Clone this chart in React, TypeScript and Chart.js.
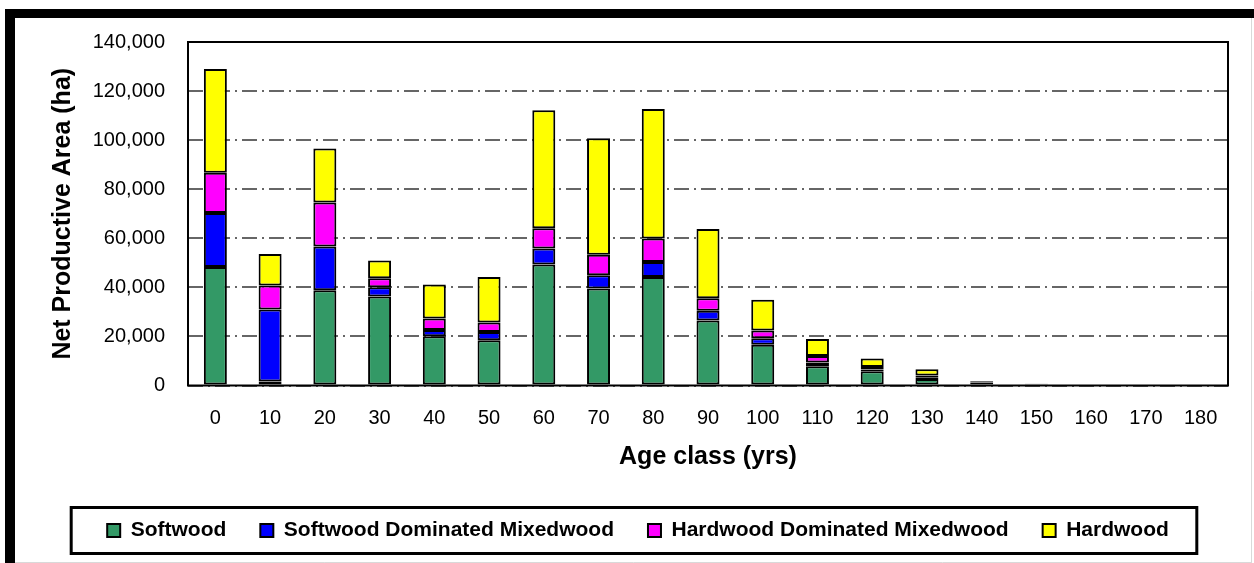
import { useEffect, useRef } from 'react';
import { Chart, registerables } from 'chart.js';

Chart.register(...registerables);

// Age classes (yrs)
const ageClasses = ['0', '10', '20', '30', '40', '50', '60', '70', '80', '90', '100', '110', '120', '130', '140', '150', '160', '170', '180'];

// Net productive area (ha) per forest type (stacked)
const softwood = [48300, 1600, 38800, 36300, 20100, 18400, 49300, 39500, 44200, 26500, 16600, 7800, 5800, 2600, 1000, 500, 0, 0, 0];
const softwoodDominatedMixedwood = [22000, 29400, 17900, 3700, 2500, 3400, 6500, 5400, 6100, 4000, 2700, 1600, 700, 800, 200, 100, 0, 0, 0];
const hardwoodDominatedMixedwood = [16400, 9800, 17900, 3700, 4700, 3900, 8300, 8400, 9600, 5100, 3100, 2600, 1000, 700, 200, 50, 0, 0, 0];
const hardwood = [42300, 12800, 22000, 7200, 13900, 18500, 48100, 47500, 52800, 28200, 12600, 7000, 3500, 2550, 300, 100, 0, 0, 0];

const seriesNames = ['Softwood', 'Softwood Dominated Mixedwood', 'Hardwood Dominated Mixedwood', 'Hardwood'];
const seriesColors = ['#339966', '#0000FF', '#FF00FF', '#FFFF00'];

const yTicks = { min: 0, max: 140000, step: 20000 };

const W = 1254;
const H = 563;

export default function App() {
  const ref = useRef<HTMLCanvasElement>(null);

  useEffect(() => {
    if (!ref.current) return;
    Chart.defaults.font.family = '"Liberation Sans", Arial, sans-serif';
    Chart.defaults.color = '#000';

    const framePlugin = {
      id: 'frame',
      beforeDraw(chart: any) {
        const ctx = chart.ctx;
        ctx.save();
        ctx.fillStyle = '#fff';
        ctx.fillRect(0, 0, chart.width, chart.height);
        ctx.fillStyle = '#000';
        ctx.fillRect(5, 9, chart.width - 5, 9);
        ctx.fillRect(5, 9, 10, chart.height - 9);
        ctx.strokeStyle = '#d9d9d9';
        ctx.lineWidth = 1;
        ctx.beginPath();
        ctx.moveTo(15, 562.5);
        ctx.lineTo(1251.5, 562.5);
        ctx.moveTo(1251.5, 18);
        ctx.lineTo(1251.5, 563);
        ctx.stroke();
        ctx.restore();
      },
      beforeDatasetsDraw(chart: any) {
        const { ctx, chartArea: a } = chart;
        ctx.save();
        ctx.setLineDash([]);
        ctx.strokeStyle = '#000';
        ctx.lineWidth = 2;
        ctx.strokeRect(a.left, a.top, a.right - a.left, a.bottom - a.top);
        ctx.restore();
      },
      afterDraw(chart: any) {
        const lg = chart.legend;
        if (!lg || !lg.legendHitBoxes || !lg.legendHitBoxes.length) return;
        const hb = lg.legendHitBoxes;
        const first = hb[0];
        const last = hb[hb.length - 1];
        const cy = first.top + first.height / 2;
        const left = first.left - 36;
        const right = last.left + last.width + 28;
        const ctx = chart.ctx;
        ctx.save();
        ctx.setLineDash([]);
        ctx.strokeStyle = '#000';
        ctx.lineWidth = 3;
        ctx.strokeRect(left, cy - 23, right - left, 46);
        ctx.restore();
      },
    };

    const seriesData = [softwood, softwoodDominatedMixedwood, hardwoodDominatedMixedwood, hardwood];

    const chart = new Chart(ref.current, {
      type: 'bar',
      data: {
        labels: ageClasses,
        datasets: seriesNames.map((name, i) => ({
          label: name,
          data: seriesData[i],
          backgroundColor: seriesColors[i],
          borderColor: '#000',
          borderWidth: 2,
          borderSkipped: false,
          barPercentage: 0.42,
          categoryPercentage: 1.0,
          stack: 'area',
        })),
      },
      options: {
        responsive: false,
        animation: false,
        devicePixelRatio: 1,
        layout: { padding: { left: 48, top: 42, right: 26, bottom: 12 } },
        plugins: {
          tooltip: { enabled: false },
          legend: {
            position: 'bottom',
            align: 'center',
            labels: {
              boxWidth: 13,
              boxHeight: 13,
              padding: 34,
              color: '#000',
              font: { size: 21, weight: 'bold' },
            },
          },
        },
        scales: {
          x: {
            stacked: true,
            grid: { display: false, drawTicks: false },
            border: { display: false },
            ticks: { font: { size: 20 }, padding: 21, color: '#000', maxRotation: 0, autoSkip: false },
            title: {
              display: true,
              text: 'Age class (yrs)',
              font: { size: 25, weight: 'bold' },
              color: '#000',
              padding: { top: 0, bottom: 13.5 },
            },
            afterFit: (scale: any) => {
              scale.height = 100.5;
            },
          },
          y: {
            stacked: true,
            min: yTicks.min,
            max: yTicks.max,
            grid: { color: '#666666', lineWidth: 2, drawTicks: false },
            border: { display: false, dash: [15, 5, 2, 5] },
            ticks: {
              stepSize: yTicks.step,
              font: { size: 20 },
              padding: 23,
              color: '#000',
              callback: (v: any) => Number(v).toLocaleString('en-US'),
            },
            title: {
              display: true,
              text: 'Net Productive Area (ha)',
              font: { size: 25, weight: 'bold' },
              color: '#000',
              padding: { top: 0, bottom: 0 },
            },
            afterFit: (scale: any) => {
              scale.width = 140;
            },
          },
        },
      },
      plugins: [framePlugin],
    });

    return () => chart.destroy();
  }, []);

  return (
    <div style={{ position: 'fixed', left: 0, top: 0, width: W, height: H, overflow: 'hidden', background: '#fff' }}>
      <canvas ref={ref} width={W} height={H} style={{ width: W, height: H, display: 'block' }} />
    </div>
  );
}
